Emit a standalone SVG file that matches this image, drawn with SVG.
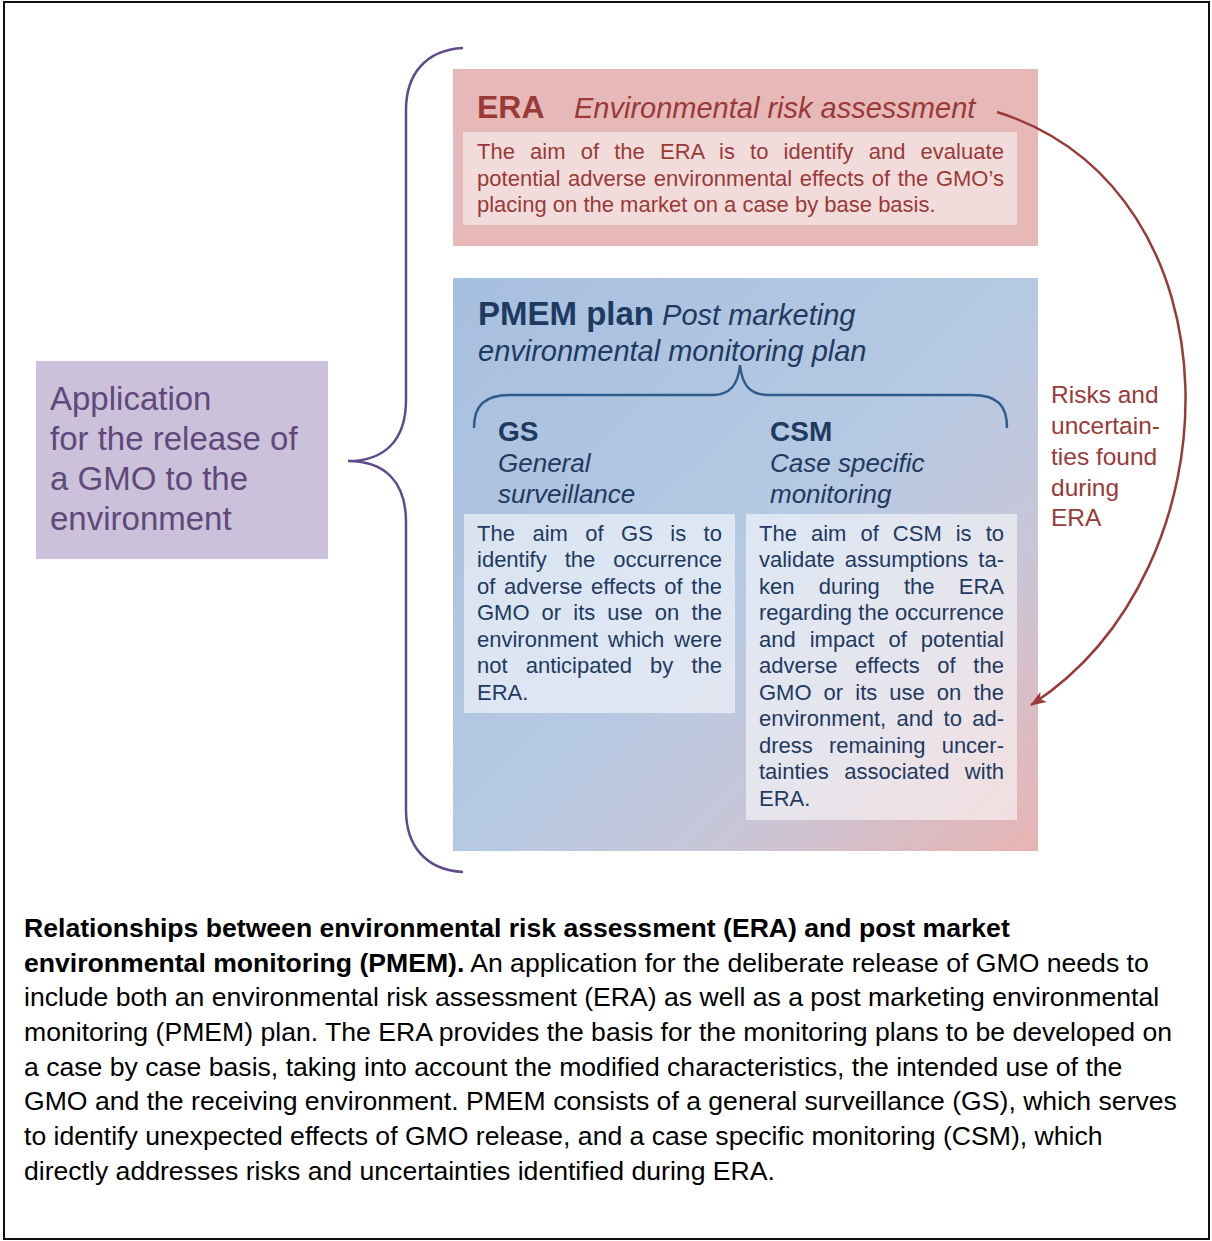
<svg xmlns="http://www.w3.org/2000/svg" width="1212" height="1241" viewBox="0 0 1212 1241">
<defs>
<style>
text{font-family:"Liberation Sans",Arial,sans-serif}
.era{fill:#993a38}
.pm{fill:#1f3a60}
.body{font-size:22px}
.it{font-style:italic}
.b{font-weight:bold}
.cap{font-size:26.6px;fill:#000}
</style>
<linearGradient id="pmg" x1="0" y1="0" x2="1" y2="1" gradientUnits="objectBoundingBox">
<stop offset="0" stop-color="#a7bfdf"/>
<stop offset="0.5" stop-color="#b5c9e3"/>
<stop offset="0.72" stop-color="#c8c6d8"/>
<stop offset="1" stop-color="#e8b4b3"/>
</linearGradient>
<marker id="ah" viewBox="0 0 16 12" refX="15" refY="6" markerWidth="16" markerHeight="12" orient="auto" markerUnits="userSpaceOnUse">
<path d="M0,0 L16,6 L0,12 L4,6 z" fill="#993a38"/>
</marker>
</defs>
<rect x="0" y="0" width="1212" height="1241" fill="#fff"/>
<rect x="4" y="2" width="1205" height="1237" fill="none" stroke="#111" stroke-width="2"/>

<g id="application">
<rect x="36" y="361" width="292" height="198" fill="#ccc1da"/>
<text x="50" y="410" font-size="33" fill="#60497a">Application</text>
<text x="50" y="450" font-size="33" fill="#60497a">for the release of</text>
<text x="50" y="490" font-size="33" fill="#60497a">a GMO to the</text>
<text x="50" y="530" font-size="33" fill="#60497a">environment</text>
</g>

<g id="era">
<rect x="453" y="69" width="585" height="177" fill="#e6b8b7"/>
<rect x="463" y="132" width="554" height="93" fill="#f2dcdb"/>
<text x="477" y="118" font-size="32" class="era b">ERA</text>
<text x="574" y="118" font-size="29" class="era it">Environmental risk assessment</text>
<text x="477" y="159" class="era body" word-spacing="8.9" textLength="527" lengthAdjust="spacing">The aim of the ERA is to identify and evaluate</text>
<text x="477" y="186" class="era body" word-spacing="1.4" textLength="527" lengthAdjust="spacing">potential adverse environmental effects of the GMO’s</text>
<text x="477" y="212" class="era body">placing on the market on a case by base basis.</text>
</g>

<g id="pmem">
<rect x="453" y="278" width="585" height="573" fill="url(#pmg)"/>
<text x="478" y="325" class="pm"><tspan font-size="33" font-weight="bold">PMEM plan</tspan><tspan font-size="29" font-style="italic"> Post marketing</tspan></text>
<text x="478" y="361" font-size="29" class="pm it">environmental monitoring plan</text>
<path d="M474,428 C474,405 485,395 510,395 L712,395 C730,395 738,385 740,365 C742,385 750,395 768,395 L972,395 C997,395 1007,405 1007,428" fill="none" stroke="#2f5b8c" stroke-width="2.5"/>
</g>

<g id="gs">
<text x="498" y="441" font-size="28" class="pm b">GS</text>
<text x="498" y="472" font-size="26" class="pm it">General</text>
<text x="498" y="503" font-size="26" class="pm it">surveillance</text>
<rect x="464" y="514" width="271" height="199" fill="#fff" fill-opacity="0.55"/>
<text x="477" y="541" class="pm body" word-spacing="11.3" textLength="245" lengthAdjust="spacing">The aim of GS is to</text>
<text x="477" y="567" class="pm body" word-spacing="11.8" textLength="245" lengthAdjust="spacing">identify the occurrence</text>
<text x="477" y="594" class="pm body" word-spacing="2.5" textLength="245" lengthAdjust="spacing">of adverse effects of the</text>
<text x="477" y="620" class="pm body" word-spacing="6" textLength="245" lengthAdjust="spacing">GMO or its use on the</text>
<text x="477" y="647" class="pm body" word-spacing="3.9" textLength="245" lengthAdjust="spacing">environment which were</text>
<text x="477" y="673" class="pm body" word-spacing="12" textLength="245" lengthAdjust="spacing">not anticipated by the</text>
<text x="477" y="700" class="pm body">ERA.</text>
</g>

<g id="csm">
<text x="770" y="441" font-size="28" class="pm b">CSM</text>
<text x="770" y="472" font-size="26" class="pm it">Case specific</text>
<text x="770" y="503" font-size="26" class="pm it">monitoring</text>
<rect x="746" y="514" width="271" height="306" fill="#fff" fill-opacity="0.55"/>
<text x="759" y="541" class="pm body" word-spacing="7.9" textLength="245" lengthAdjust="spacing">The aim of CSM is to</text>
<text x="759" y="567" class="pm body" word-spacing="3.9" textLength="245" lengthAdjust="spacing">validate assumptions ta-</text>
<text x="759" y="594" class="pm body" word-spacing="18" textLength="245" lengthAdjust="spacing">ken during the ERA</text>
<text x="759" y="620" class="pm body" textLength="245" lengthAdjust="spacing">regarding the occurrence</text>
<text x="759" y="647" class="pm body" word-spacing="7.9" textLength="245" lengthAdjust="spacing">and impact of potential</text>
<text x="759" y="673" class="pm body" word-spacing="11.5" textLength="245" lengthAdjust="spacing">adverse effects of the</text>
<text x="759" y="700" class="pm body" word-spacing="6" textLength="245" lengthAdjust="spacing">GMO or its use on the</text>
<text x="759" y="726" class="pm body" word-spacing="4.2" textLength="245" lengthAdjust="spacing">environment, and to ad-</text>
<text x="759" y="753" class="pm body" word-spacing="10" textLength="245" lengthAdjust="spacing">dress remaining uncer-</text>
<text x="759" y="779" class="pm body" word-spacing="9.4" textLength="245" lengthAdjust="spacing">tainties associated with</text>
<text x="759" y="806" class="pm body">ERA.</text>
</g>

<g id="risks-label">
<text x="1051" y="403" font-size="24.5" class="era">Risks and</text>
<text x="1051" y="434" font-size="24.5" class="era">uncertain-</text>
<text x="1051" y="465" font-size="24.5" class="era">ties found</text>
<text x="1051" y="496" font-size="24.5" class="era">during</text>
<text x="1051" y="526" font-size="24.5" class="era">ERA</text>
</g>

<g id="connectors">
<path d="M463,48 C425,50 406,75 406,110 L406,400 C406,440 385,461 348,461 C385,461 406,482 406,522 L406,810 C406,845 425,870 463,872" fill="none" stroke="#5f4a8b" stroke-width="2.5"/>
<path d="M997,112 C1245,190 1240,570 1031,705" fill="none" stroke="#993a38" stroke-width="2.5" marker-end="url(#ah)"/>
</g>

<g id="caption">
<text x="24" y="937" class="cap b">Relationships between environmental risk assessment (ERA) and post market</text>
<text x="24" y="972" class="cap"><tspan font-weight="bold">environmental monitoring (PMEM).</tspan> An application for the deliberate release of GMO needs to</text>
<text x="24" y="1006" class="cap">include both an environmental risk assessment (ERA) as well as a post marketing environmental</text>
<text x="24" y="1041" class="cap">monitoring (PMEM) plan. The ERA provides the basis for the monitoring plans to be developed on</text>
<text x="24" y="1076" class="cap">a case by case basis, taking into account the modified characteristics, the intended use of the</text>
<text x="24" y="1110" class="cap">GMO and the receiving environment. PMEM consists of a general surveillance (GS), which serves</text>
<text x="24" y="1145" class="cap">to identify unexpected effects of GMO release, and a case specific monitoring (CSM), which</text>
<text x="24" y="1180" class="cap">directly addresses risks and uncertainties identified during ERA.</text>
</g>
</svg>
